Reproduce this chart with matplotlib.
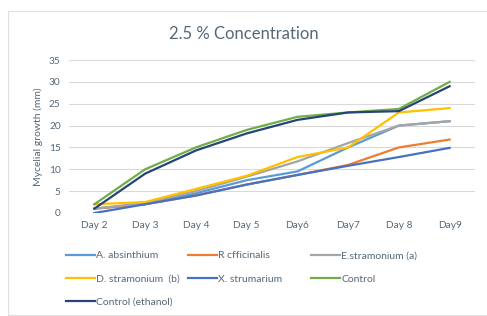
import matplotlib
matplotlib.use("Agg")
import matplotlib.pyplot as plt
from matplotlib.patches import Rectangle

plt.rcParams['font.family'] = ['Lato', 'DejaVu Sans']

days = ["Day 2", "Day 3", "Day 4", "Day 5", "Day6", "Day7", "Day 8", "Day9"]

absinthium = [1, 2, 4.5, 7.5, 9.5, 15, 20, 21]
officinalis = [1, 2, 4, 6.5, 8.7, 11, 15, 16.8]
stramonium_a = [1, 2.3, 5, 8.3, 11.8, 16, 20, 21]
stramonium_b = [2, 2.5, 5.5, 8.5, 12.8, 15, 23, 24]
strumarium = [0, 2, 4, 6.5, 8.7, 10.8, 12.8, 14.9]
control = [2, 10, 15, 19, 22, 23, 23.8, 30]
control_eth = [1, 9, 14.3, 18.2, 21.3, 23, 23.3, 29]

series = [
    ("A. absinthium", absinthium, "#5B9BD5"),
    ("R cfficinalis", officinalis, "#ED7D31"),
    ("E.stramonium (a)", stramonium_a, "#A5A5A5"),
    ("D. stramonium  (b)", stramonium_b, "#FFC000"),
    ("X. strumarium", strumarium, "#4472C4"),
    ("Control", control, "#70AD47"),
    ("Control (ethanol)", control_eth, "#264478"),
]
txt = "#556878"

fig = plt.figure(figsize=(4.87, 3.16), dpi=100)
fig.patch.set_facecolor("white")
ax = fig.add_axes([69/487, 1-213/316, 406/487, 153/316])

lines = {}
for name, vals, col in series:
    l, = ax.plot(range(len(days)), vals, color=col, lw=1.6, label=name)
    lines[name] = l

ax.set_xlim(-0.5, 7.5)
ax.set_ylim(0, 35)
ax.set_yticks(range(0, 36, 5))
ax.set_xticks(range(len(days)))
ax.set_xticklabels(days)
ax.grid(axis="y", color="#D9D9D9", lw=0.8)
ax.set_axisbelow(True)
for s in ax.spines.values():
    s.set_visible(False)
ax.tick_params(length=0, labelsize=7.3, colors=txt, pad=6)
ax.set_ylabel("Mycelial growth (mm)", fontsize=7.5, color=txt, labelpad=4)

fig.text(0.5, 1-34/316, "2.5 % Concentration", ha="center", va="center",
         fontsize=12, color=txt)

# legend as three fixed-width columns, like the spreadsheet one
cols = [["A. absinthium", "D. stramonium  (b)", "Control (ethanol)"],
        ["R cfficinalis", "X. strumarium"],
        ["E.stramonium (a)", "Control"]]
col_x = [66, 188, 311]
for names, x in zip(cols, col_x):
    leg = fig.legend([lines[n] for n in names], names, ncol=1,
                     loc="upper left", bbox_to_anchor=(x/487, 1-251/316),
                     frameon=False, fontsize=7.5, handlelength=2.8,
                     handletextpad=0.1, labelspacing=1.35, borderpad=0,
                     borderaxespad=0)
    for t in leg.get_texts():
        t.set_color(txt)

fig.patches.append(Rectangle((8/487, 0.003), 1.0, 1-11/316-0.003,
                             transform=fig.transFigure,
                             fill=False, edgecolor="#E0E0E0", lw=0.8))

fig.savefig("out.png", dpi=100)
